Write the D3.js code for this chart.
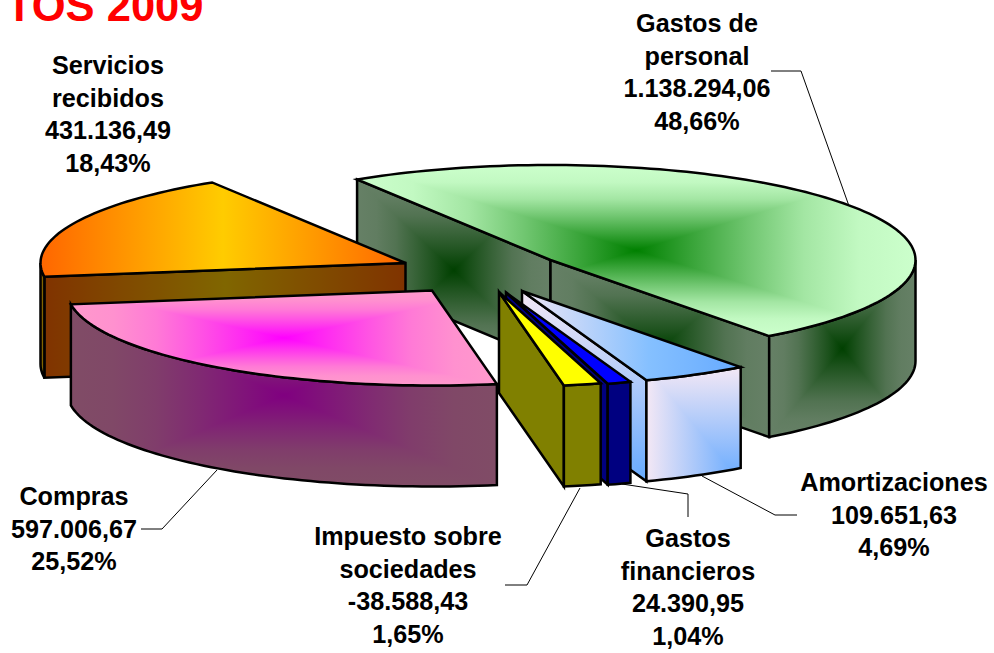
<!DOCTYPE html>
<html>
<head>
<meta charset="utf-8">
<script src="https://cdn.jsdelivr.net/npm/d3@7"></script>
<style>
html,body{margin:0;padding:0;background:#fff;overflow:hidden}
svg{display:block}
text{font-family:"Liberation Sans",Arial,sans-serif;font-weight:bold}
</style>
</head>
<body>
<svg id="chart" width="994" height="653"></svg>
<script>
// ---- data ----
const titleText = "TOS 2009";
const categories = ["Gastos de personal","Amortizaciones","Gastos financieros","Impuesto sobre sociedades","Compras","Servicios recibidos"];
const values = [1138294.06,109651.63,24390.95,-38588.43,597006.67,431136.49];

// ---- layout (separate from the data) ----
const labelLines = [["Gastos de","personal"],["Amortizaciones"],["Gastos","financieros"],["Impuesto sobre","sociedades"],["Compras"],["Servicios","recibidos"]];
const sliceCentres = [[550.5,260],[522,291],[506,292.5],[499,292],[432,290.5],[405.5,263]];
const labelAnchors = [[697,32],[894,491],[688,547],[408,545],[74,505],[108,74]];
const leaders = [
  [[771,71],[801,71],[849,206]],
  [[797,515],[775,515],[702,476]],
  [[688,517],[688,494],[622,484]],
  [[505,585],[527,585],[580,488]],
  [[141,529],[162,529],[217,470]],
  []
];
const paints = [
  {top:{k:"rect",edge:"#CCFFCC",mid:"#008000"},side:{k:"rect",edge:"#668066",mid:"#004000"}},
  {top:{k:"ramp",edge:"#F0E6F5",knee:"#85C0FF",mid:"#66AAFF"},side:{k:"corner",edge:"#F4E8F5",mid:"#66AAFF"}},
  {top:{k:"flat",mid:"#0000FF"},side:{k:"flat",mid:"#000080"}},
  {top:{k:"flat",mid:"#FFFF00"},side:{k:"flat",mid:"#808000"}},
  {top:{k:"rect",edge:"#FF99CC",mid:"#FF00FF"},side:{k:"rect",edge:"#804C66",mid:"#800080"}},
  {top:{k:"axial",edge:"#FF6600",mid:"#FFCC00"},side:{k:"axial",edge:"#803300",mid:"#806600"}}
];
// how fast a centred gradient leaves its middle colour: [offset, share of the edge colour]
const easeStops = [[0,0],[0.2,0.28],[0.4,0.55],[0.6,0.8],[0.8,0.95],[1,1]];
const rx = 365, ry = 95, depth = 101, lineGap = 32.7, outline = 2.5;

const svg = d3.select("#chart");
const defs = svg.append("defs");
const rad = d => d * Math.PI / 180;

const pieLayout = d3.pie().sort(null).value(Math.abs).startAngle(rad(-32)).endAngle(rad(328));
const arcs = pieLayout(values);
const total = d3.sum(values, Math.abs);
const es = d3.formatLocale({decimal:",",thousands:".",grouping:[3],currency:["","€"],minus:"-"});
const fmtVal = es.format(",.2f");
const fmtPct = v => es.format(".2f")(v) + "%";

const lineGen = d3.line();
let uid = 0;

function paintFace(layer, pts, paint){
  const d = lineGen(pts) + "Z";
  if (paint.k === "flat"){
    layer.append("path").attr("d",d).attr("fill",paint.mid).attr("stroke","#000").attr("stroke-width",outline).attr("stroke-linejoin","miter");
    return;
  }
  const [x0,x1] = d3.extent(pts,p=>p[0]), [y0,y1] = d3.extent(pts,p=>p[1]);
  const id = "f"+(uid++);
  defs.append("clipPath").attr("id","c"+id).append("path").attr("d",d);
  const g = layer.append("g").attr("clip-path","url(#c"+id+")");
  function grad(name,xa,ya,xb,yb,stops){
    const lg = defs.append("linearGradient").attr("id",id+name).attr("gradientUnits","userSpaceOnUse")
      .attr("x1",xa).attr("y1",ya).attr("x2",xb).attr("y2",yb);
    stops.forEach(([o,c])=>lg.append("stop").attr("offset",o).attr("stop-color",c));
    return "url(#"+id+name+")";
  }
  const mix = d3.interpolateRgb(paint.mid, paint.edge || paint.mid);
  const straight = [[0,paint.mid],[1,paint.edge]];
  const eased = easeStops.map(([o,t])=>[o,mix(t)]);
  if (paint.k === "ramp"){
    g.append("rect").attr("x",x0-1).attr("y",y0-1).attr("width",x1-x0+2).attr("height",y1-y0+2)
      .attr("fill",grad("h",x0,0,x1,0,[[0,paint.edge],[0.58,paint.knee],[1,paint.mid]]));
  } else if (paint.k === "axial"){
    const cx=(x0+x1)/2;
    g.append("rect").attr("x",x0-1).attr("y",y0-1).attr("width",cx-x0+1).attr("height",y1-y0+2).attr("fill",grad("l",cx,0,x0,0,straight)).attr("shape-rendering","crispEdges");
    g.append("rect").attr("x",cx).attr("y",y0-1).attr("width",x1-cx+1).attr("height",y1-y0+2).attr("fill",grad("r",cx,0,x1,0,straight)).attr("shape-rendering","crispEdges");
  } else {
    const corner = paint.k==="corner";
    const cx = corner ? x1 : (x0+x1)/2, cy = corner ? y1 : (y0+y1)/2;
    const tris = [
      ["t",[[x0,y0],[x1,y0]],cx,y0],
      ["b",[[x0,y1],[x1,y1]],cx,y1],
      ["l",[[x0,y0],[x0,y1]],x0,cy],
      ["r",[[x1,y0],[x1,y1]],x1,cy]
    ];
    tris.forEach(([n,e,ex,ey])=>{
      if (Math.hypot(ex-cx,ey-cy)<0.01) return;
      g.append("path").attr("d",lineGen([[cx,cy],e[0],e[1]])+"Z")
        .attr("fill",grad(n,cx,cy,ex,ey,corner?straight:eased)).attr("shape-rendering","crispEdges");
    });
  }
  layer.append("path").attr("d",d).attr("fill","none").attr("stroke","#000").attr("stroke-width",outline).attr("stroke-linejoin","miter");
}

function proj(c,a,z){ return [c[0]+rx*Math.sin(a), c[1]-ry*Math.cos(a)+z]; }
function arcPts(c,a0,a1,z){
  const n = Math.max(2,Math.ceil(Math.abs(a1-a0)/rad(1.5)));
  return d3.range(n+1).map(i=>proj(c,a0+(a1-a0)*i/n,z));
}

// leaders sit beneath the slices, so their ends tuck under the outline
const leaderLayer = svg.append("g");
const drawOrder = [0,5,1,2,3,4];
const sliceLayer = svg.append("g");

drawOrder.forEach(i=>{
  const s = arcs[i], c = sliceCentres[i], p = paints[i];
  const g = sliceLayer.append("g").attr("class","slice");
  const a0 = s.startAngle, a1 = s.endAngle;
  const centre = [c[0],c[1]], centreLow = [c[0],c[1]+depth];
  // start radial wall
  if (Math.sin(a0) < 0) paintFace(g,[centre,proj(c,a0,0),proj(c,a0,depth),centreLow],p.side);
  // end radial wall
  if (Math.sin(a1) > 0) paintFace(g,[centre,proj(c,a1,0),proj(c,a1,depth),centreLow],p.side);
  // outer wall, the part turned to the viewer
  const oa = Math.max(a0,rad(90)), ob = Math.min(a1,rad(270));
  if (ob > oa) paintFace(g,[...arcPts(c,oa,ob,0),...arcPts(c,ob,oa,depth)],p.side);
  // top
  paintFace(g,[centre,...arcPts(c,a0,a1,0)],p.top);
});

leaders.forEach(pts=>{
  if(!pts.length) return;
  leaderLayer.append("path").attr("d",lineGen(pts)).attr("fill","none").attr("stroke","#000").attr("stroke-width",1);
});

// labels
const labelLayer = svg.append("g");
categories.forEach((name,i)=>{
  const lines = [...labelLines[i], fmtVal(values[i]), fmtPct(Math.abs(values[i])/total*100)];
  const [x,y] = labelAnchors[i];
  lines.forEach((t,j)=>{
    labelLayer.append("text").attr("x",x).attr("y",y+j*lineGap).attr("text-anchor","middle")
      .attr("font-size",25.2).attr("fill","#000").text(t);
  });
});

svg.append("text").attr("x",6).attr("y",21).attr("font-size",43.5).attr("fill","#FF0000").text(titleText);
</script>
</body>
</html>
